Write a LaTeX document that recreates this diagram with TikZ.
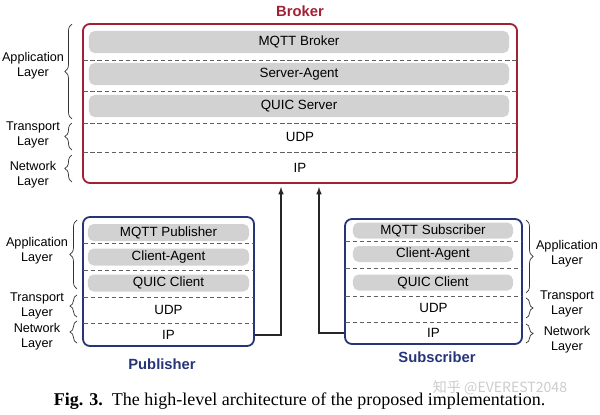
\documentclass[tikz,border=0pt]{standalone}
\usepackage{fontspec}
\setmainfont{Liberation Sans}
\newfontfamily\capfont{Liberation Serif}
\newfontfamily\cjkfont{Noto Sans CJK SC}
\usetikzlibrary{decorations.pathreplacing}
\definecolor{brokerred}{RGB}{162,32,52}
\definecolor{hostblue}{RGB}{38,52,120}
\definecolor{bargray}{RGB}{210,210,210}
\definecolor{dashgray}{RGB}{95,95,95}

\begin{document}
\begin{tikzpicture}[x=0.025cm, y=-0.025cm, every node/.style={font=\fontsize{9.5}{11}\selectfont}]
			\tikzstyle{host}=[draw, line width=1.3pt, rounded corners=5pt, inner sep=0pt]
			\tikzstyle{bar}=[fill=bargray, rounded corners=4pt, inner sep=0pt]
			\tikzstyle{sep}=[dashgray, line width=0.6pt, dash pattern=on 3pt off 2pt]
			\tikzstyle{layer}=[align=center, inner sep=1pt, font=\fontsize{9}{10.5}\selectfont]
			\tikzstyle{lbrace}=[decorate, decoration={brace, amplitude=5pt}, line width=0.5pt, draw=black!80]
			\tikzstyle{title}=[font=\fontsize{10.5}{12}\selectfont\bfseries]
			\useasboundingbox (0,0) rectangle (600,415);
			
			% broker
			\node[host, draw=brokerred, minimum width=10.85cm, minimum height=3.975cm](broker) at (300,103.5){};
			\node[title, text=brokerred](broker-t) at (300,11){Broker};
			\foreach \y/\t [count=\i] in {42/MQTT Broker, 74/Server-Agent, 106/QUIC Server}
			\node[bar, minimum width=10.5cm, minimum height=0.55cm](broker-b\i) at (299,\y){\t};
			\foreach \y in {60,91,123,152}
			\draw[sep] ([xshift=1pt]broker.west |- 0,\y) -- ([xshift=-1pt]broker.east |- 0,\y);
			\node(broker-udp) at (300,137){UDP};
			\node(broker-ip) at (300,168){IP};
			
			\draw[lbrace] (72,119) -- (72,24);
			\draw[lbrace] (72,150) -- (72,123);
			\draw[lbrace] (72,182) -- (72,155);
			\node[layer](broker-app) at (33,66){Application\\Layer};
			\node[layer](broker-tra) at (33,135){Transport\\Layer};
			\node[layer](broker-net) at (33,175){Network\\Layer};
			
			% publisher
			\node[host, draw=hostblue, minimum width=4.275cm, minimum height=3.225cm](pub) at (168.5,281.5){};
			\node[title, text=hostblue](pub-t) at (162,364){Publisher};
			\foreach \y/\t [count=\i] in {232.5/MQTT Publisher, 257/Client-Agent, 283/QUIC Client}
			\node[bar, minimum width=4.025cm, minimum height=0.425cm](pub-b\i) at (168.5,\y){\t};
			\foreach \y in {243,270,297,323}
			\draw[sep] ([xshift=1pt]pub.west |- 0,\y) -- ([xshift=-1pt]pub.east |- 0,\y);
			\node(pub-udp) at (168.5,310){UDP};
			\node(pub-ip) at (168.5,335){IP};
			
			\draw[lbrace] (77,289) -- (77,220);
			\draw[lbrace] (77,317) -- (77,295);
			\draw[lbrace] (77,343) -- (77,321);
			\node[layer](pub-app) at (37,251){Application\\Layer};
			\node[layer](pub-tra) at (37,306){Transport\\Layer};
			\node[layer](pub-net) at (37,337){Network\\Layer};
			
			% subscriber
			\node[host, draw=hostblue, minimum width=4.425cm, minimum height=3.125cm](sub) at (433.5,281.5){};
			\node[title, text=hostblue](sub-t) at (437,357){Subscriber};
			\foreach \y/\t [count=\i] in {230.5/MQTT Subscriber, 254/Client-Agent, 282.5/QUIC Client}
			\node[bar, minimum width=4cm, minimum height=0.4cm](sub-b\i) at (433,\y){\t};
			\foreach \y in {241,268,296,322}
			\draw[sep] ([xshift=1pt]sub.west |- 0,\y) -- ([xshift=-1pt]sub.east |- 0,\y);
			\node(sub-udp) at (433.5,308){UDP};
			\node(sub-ip) at (433.5,333){IP};
			
			\draw[lbrace] (526,220) -- (526,293);
			\draw[lbrace] (526,298) -- (526,318);
			\draw[lbrace] (526,324) -- (526,343);
			\node[layer](sub-app) at (567,254){Application\\Layer};
			\node[layer](sub-tra) at (567,304){Transport\\Layer};
			\node[layer](sub-net) at (567,340){Network\\Layer};
			
			% connections
			\coordinate(in-l) at (281,187);
			\coordinate(in-r) at (319,187);
			\draw[->, >=latex, line width=0.8pt, black!85] (pub.east |- pub-ip) -| (in-l);
			\draw[->, >=latex, line width=0.8pt, black!85] (sub.west |- sub-ip) -| (in-r);
			
			\node[anchor=west, font=\capfont\fontsize{12.8}{14}\selectfont](caption) at (49,401){\textbf{Fig. 3.}\ \ The high-level architecture of the proposed implementation.};
			\node[text=gray!40, font=\cjkfont\fontsize{10}{12}\selectfont](mark) at (500,388){知乎 @EVEREST2048};
\end{tikzpicture}
\end{document}
